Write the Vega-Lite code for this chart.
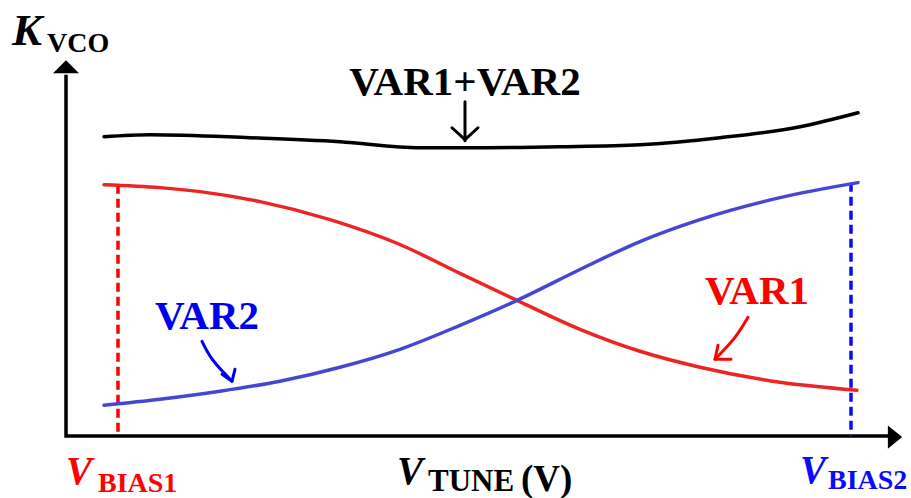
{
  "$schema": "https://vega.github.io/schema/vega-lite/v6.json",
  "width": 911,
  "height": 498,
  "padding": 0,
  "autosize": {"type": "fit", "contains": "padding"},
  "background": "white",
  "config": {"view": {"stroke": null}},
  "datasets": {
    "frame": [
      {"x": 0, "y": 362, "o": 0},
      {"x": 0, "y": 0, "o": 1},
      {"x": 823, "y": 0, "o": 2}
    ],
    "heads": [
      {"x": 0, "y": 370, "dir": "up"},
      {"x": 829, "y": -1, "dir": "right"}
    ],
    "curves": [
      {"s": "SUM", "x": 38, "y": 300}, {"s": "SUM", "x": 84, "y": 302}, {"s": "SUM", "x": 184, "y": 299},
      {"s": "SUM", "x": 274, "y": 295}, {"s": "SUM", "x": 354, "y": 289}, {"s": "SUM", "x": 404, "y": 289},
      {"s": "SUM", "x": 494, "y": 290}, {"s": "SUM", "x": 574, "y": 292}, {"s": "SUM", "x": 654, "y": 299},
      {"s": "SUM", "x": 734, "y": 310}, {"s": "SUM", "x": 792, "y": 324},
      {"s": "VAR1", "x": 38, "y": 252}, {"s": "VAR1", "x": 94, "y": 249}, {"s": "VAR1", "x": 134, "y": 245},
      {"s": "VAR1", "x": 194, "y": 235}, {"s": "VAR1", "x": 264, "y": 217}, {"s": "VAR1", "x": 334, "y": 192},
      {"s": "VAR1", "x": 394, "y": 163}, {"s": "VAR1", "x": 451, "y": 136}, {"s": "VAR1", "x": 514, "y": 107},
      {"s": "VAR1", "x": 574, "y": 85}, {"s": "VAR1", "x": 634, "y": 69}, {"s": "VAR1", "x": 714, "y": 54},
      {"s": "VAR1", "x": 791, "y": 46},
      {"s": "VAR2", "x": 38, "y": 31}, {"s": "VAR2", "x": 94, "y": 37}, {"s": "VAR2", "x": 154, "y": 45},
      {"s": "VAR2", "x": 214, "y": 55}, {"s": "VAR2", "x": 274, "y": 69}, {"s": "VAR2", "x": 334, "y": 87},
      {"s": "VAR2", "x": 394, "y": 111}, {"s": "VAR2", "x": 451, "y": 136}, {"s": "VAR2", "x": 514, "y": 167},
      {"s": "VAR2", "x": 574, "y": 195}, {"s": "VAR2", "x": 634, "y": 217}, {"s": "VAR2", "x": 714, "y": 239},
      {"s": "VAR2", "x": 792, "y": 254}
    ],
    "bias": [
      {"s": "BIAS1", "x": 52, "y": 252}, {"s": "BIAS1", "x": 52, "y": 0},
      {"s": "BIAS2", "x": 785, "y": 254}, {"s": "BIAS2", "x": 785, "y": 0}
    ],
    "shafts": [
      {"id": "sum", "s": "SUM", "x": 399, "y": 335}, {"id": "sum", "s": "SUM", "x": 399, "y": 296},
      {"id": "v2", "s": "VAR2 note", "x": 136, "y": 95}, {"id": "v2", "s": "VAR2 note", "x": 147, "y": 76}, {"id": "v2", "s": "VAR2 note", "x": 166, "y": 55},
      {"id": "v1", "s": "VAR1 note", "x": 682, "y": 119}, {"id": "v1", "s": "VAR1 note", "x": 669, "y": 99}, {"id": "v1", "s": "VAR1 note", "x": 649, "y": 77}
    ],
    "tips": [
      {"id": "s1", "s": "SUM", "o": 0, "x": 386, "y": 309}, {"id": "s1", "s": "SUM", "o": 1, "x": 399, "y": 297}, {"id": "s1", "s": "SUM", "o": 2, "x": 412, "y": 309},
      {"id": "b1", "s": "VAR2 note", "o": 0, "x": 156, "y": 62}, {"id": "b1", "s": "VAR2 note", "o": 1, "x": 166, "y": 55}, {"id": "b1", "s": "VAR2 note", "o": 2, "x": 169, "y": 67},
      {"id": "r1", "s": "VAR1 note", "o": 0, "x": 652, "y": 91}, {"id": "r1", "s": "VAR1 note", "o": 1, "x": 649, "y": 77}, {"id": "r1", "s": "VAR1 note", "o": 2, "x": 665, "y": 77}
    ],
    "labels": [
      {"t": "K", "role": "quantity", "s": "SUM", "x": -54, "y": 392},
      {"t": "VCO", "role": "sub", "s": "SUM", "x": -19, "y": 385},
      {"t": "VAR1+VAR2", "role": "title", "s": "SUM", "x": 399, "y": 342},
      {"t": "VAR2", "role": "note", "s": "VAR2 note", "x": 89, "y": 107},
      {"t": "VAR1", "role": "note", "s": "VAR1 note", "x": 639, "y": 132},
      {"t": "V", "role": "symbol", "s": "BIAS1", "x": 0, "y": -48},
      {"t": "BIAS1", "role": "sub", "s": "BIAS1", "x": 32, "y": -56},
      {"t": "V", "role": "symbol", "s": "SUM", "x": 331, "y": -48},
      {"t": "TUNE", "role": "subwide", "s": "SUM", "x": 362, "y": -55},
      {"t": "(V)", "role": "unit", "s": "SUM", "x": 455, "y": -55},
      {"t": "V", "role": "symbol", "s": "BIAS2", "x": 734, "y": -47},
      {"t": "BIAS2", "role": "sub", "s": "BIAS2", "x": 762, "y": -53}
    ]
  },
  "encoding": {
    "x": {"field": "x", "type": "quantitative", "scale": {"domain": [-66, 845], "nice": false, "zero": false}, "axis": null},
    "y": {"field": "y", "type": "quantitative", "scale": {"domain": [-61, 437], "nice": false, "zero": false}, "axis": null},
    "color": {
      "field": "s", "type": "nominal", "legend": null,
      "scale": {
        "domain": ["SUM", "VAR1", "VAR2", "BIAS1", "BIAS2", "VAR1 note", "VAR2 note"],
        "range": ["#000000", "#ee2424", "#4646d4", "#ff0000", "#0a0aff", "#ff0000", "#0000f0"]
      }
    }
  },
  "layer": [
    {
      "data": {"name": "frame"},
      "mark": {"type": "line", "strokeWidth": 3.5, "strokeJoin": "miter", "strokeCap": "butt"},
      "encoding": {"order": {"field": "o", "type": "quantitative"}, "color": {"value": "black"}}
    },
    {
      "data": {"name": "heads"},
      "transform": [{"filter": "datum.dir === 'up'"}],
      "mark": {"type": "point", "filled": true, "opacity": 1, "size": 676, "shape": "M0,-0.5 L1,0.5 L-1,0.5 Z"},
      "encoding": {"color": {"value": "black"}}
    },
    {
      "data": {"name": "heads"},
      "transform": [{"filter": "datum.dir === 'right'"}],
      "mark": {"type": "point", "filled": true, "opacity": 1, "size": 676, "shape": "M0.55,0 L-0.55,-0.9 L-0.55,0.9 Z"},
      "encoding": {"color": {"value": "black"}}
    },
    {
      "data": {"name": "bias"},
      "mark": {"type": "line", "strokeWidth": 3.5, "strokeDash": [9, 5], "strokeCap": "butt"},
      "encoding": {"detail": {"field": "s"}}
    },
    {
      "data": {"name": "curves"},
      "mark": {"type": "line", "strokeWidth": 3.5, "interpolate": "monotone", "strokeCap": "round"},
      "encoding": {"detail": {"field": "s"}}
    },
    {
      "data": {"name": "shafts"},
      "mark": {"type": "line", "strokeWidth": 3, "interpolate": "cardinal", "strokeCap": "round"},
      "encoding": {"detail": {"field": "id"}}
    },
    {
      "data": {"name": "tips"},
      "mark": {"type": "line", "strokeWidth": 3, "strokeCap": "round", "strokeJoin": "round"},
      "encoding": {"detail": {"field": "id"}, "order": {"field": "o", "type": "quantitative"}}
    },
    {
      "data": {"name": "labels"},
      "transform": [{"filter": "datum.role === 'quantity'"}],
      "mark": {"type": "text", "font": "Liberation Serif", "fontWeight": "bold", "fontStyle": "italic", "fontSize": 45, "align": "left", "baseline": "alphabetic"},
      "encoding": {"text": {"field": "t"}}
    },
    {
      "data": {"name": "labels"},
      "transform": [{"filter": "datum.role === 'symbol'"}],
      "mark": {"type": "text", "font": "Liberation Serif", "fontWeight": "bold", "fontStyle": "italic", "fontSize": 39, "align": "left", "baseline": "alphabetic"},
      "encoding": {"text": {"field": "t"}}
    },
    {
      "data": {"name": "labels"},
      "transform": [{"filter": "datum.role === 'sub'"}],
      "mark": {"type": "text", "font": "Liberation Serif", "fontWeight": "bold", "fontSize": 28, "align": "left", "baseline": "alphabetic"},
      "encoding": {"text": {"field": "t"}}
    },
    {
      "data": {"name": "labels"},
      "transform": [{"filter": "datum.role === 'subwide'"}],
      "mark": {"type": "text", "font": "Liberation Serif", "fontWeight": "bold", "fontSize": 31, "align": "left", "baseline": "alphabetic"},
      "encoding": {"text": {"field": "t"}}
    },
    {
      "data": {"name": "labels"},
      "transform": [{"filter": "datum.role === 'unit'"}],
      "mark": {"type": "text", "font": "Liberation Serif", "fontWeight": "bold", "fontSize": 37, "align": "left", "baseline": "alphabetic"},
      "encoding": {"text": {"field": "t"}}
    },
    {
      "data": {"name": "labels"},
      "transform": [{"filter": "datum.role === 'note'"}],
      "mark": {"type": "text", "font": "Liberation Serif", "fontWeight": "bold", "fontSize": 41, "align": "left", "baseline": "alphabetic"},
      "encoding": {"text": {"field": "t"}}
    },
    {
      "data": {"name": "labels"},
      "transform": [{"filter": "datum.role === 'title'"}],
      "mark": {"type": "text", "font": "Liberation Serif", "fontWeight": "bold", "fontSize": 41, "align": "center", "baseline": "alphabetic"},
      "encoding": {"text": {"field": "t"}}
    }
  ]
}
